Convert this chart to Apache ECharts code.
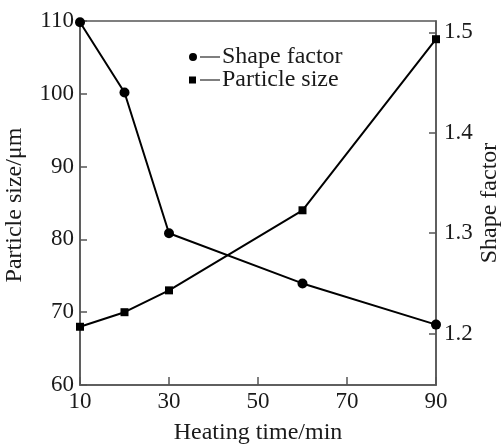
<!DOCTYPE html>
<html><head><meta charset="utf-8">
<script src="https://cdn.jsdelivr.net/npm/echarts@6/dist/echarts.min.js"></script>
<style>html,body{margin:0;padding:0;background:#fff}#c{width:502px;height:444px}</style>
</head><body><div id="c"></div>
<script>
const xValues = [10, 20, 30, 60, 90];
const particleSize = [68, 70, 73, 84, 107.5];
const shapeFactor = [1.51, 1.44, 1.30, 1.25, 1.209];
const xTicks = [10, 30, 50, 70, 90];
const leftTicks = [60, 70, 80, 90, 100, 110];
const rightTicks = [1.2, 1.3, 1.4, 1.5];
const seriesNames = ['Shape factor', 'Particle size'];
const xTitle = 'Heating time/min';
const leftTitle = 'Particle size/\u03bcm';
const rightTitle = 'Shape factor';

const FONT = 'Liberation Serif';
const axisCol = '#555';
const txtCol = '#1a1a1a';
const chart = echarts.init(document.getElementById('c'), null, {renderer: 'canvas'});
const circIcon = 'path://M0,4 A4,4 0 1,1 8,4 A4,4 0 1,1 0,4 Z M11,3.4 L31,3.4 L31,4.6 L11,4.6 Z';
const sqIcon = 'path://M0,0.5 L7,0.5 L7,7.5 L0,7.5 Z M11,3.4 L31,3.4 L31,4.6 L11,4.6 Z';
chart.setOption({
  animation: false,
  backgroundColor: '#fff',
  grid: {left: 80, right: 66, top: 21, bottom: 59, show: true, borderColor: axisCol, borderWidth: 1.5},
  legend: {
    orient: 'vertical', left: 184, top: 40, itemWidth: 31, itemHeight: 8, itemGap: -1,
    textStyle: {fontFamily: FONT, fontSize: 24, color: txtCol, lineHeight: 22, padding: [0,0,0,-3]},
    data: [{name: seriesNames[0], icon: circIcon}, {name: seriesNames[1], icon: sqIcon}]
  },
  xAxis: {
    type: 'value', min: xTicks[0], max: xTicks[xTicks.length-1], interval: 20,
    axisLine: {lineStyle: {color: axisCol, width: 1.5}},
    axisTick: {inside: true, length: 8, lineStyle: {color: axisCol, width: 1.5}},
    axisLabel: {fontFamily: FONT, fontSize: 23, color: txtCol, margin: 5},
    splitLine: {show: false}
  },
  yAxis: [{
    type: 'value', min: leftTicks[0], max: leftTicks[leftTicks.length-1], interval: 10,
    axisLine: {show: true, lineStyle: {color: axisCol, width: 1.5}},
    axisTick: {show: true, inside: true, length: 7, lineStyle: {color: axisCol, width: 1.5}},
    axisLabel: {fontFamily: FONT, fontSize: 23, color: txtCol, margin: 6},
    splitLine: {show: false}
  }, {
    type: 'value', position: 'right', min: 1.1489, max: 1.5112,
    axisLine: {show: true, lineStyle: {color: axisCol, width: 1.5}},
    axisTick: {show: true, inside: true, length: 7, customValues: rightTicks, lineStyle: {color: axisCol, width: 1.5}},
    axisLabel: {fontFamily: FONT, fontSize: 23, color: txtCol, margin: 8, customValues: rightTicks, formatter: v => v.toFixed(1)},
    splitLine: {show: false}
  }],
  series: [{
    name: seriesNames[0], type: 'line', yAxisIndex: 1,
    data: xValues.map((x, i) => [x, shapeFactor[i]]),
    symbol: 'circle', symbolSize: 10,
    lineStyle: {color: '#000', width: 2}, itemStyle: {color: '#000'}
  }, {
    name: seriesNames[1], type: 'line', yAxisIndex: 0,
    data: xValues.map((x, i) => [x, particleSize[i]]),
    symbol: 'rect', symbolSize: 8,
    lineStyle: {color: '#000', width: 2}, itemStyle: {color: '#000'}
  }],
  graphic: [
    {type: 'text', x: 258, y: 433, style: {text: xTitle, fontFamily: FONT, fontSize: 24, fill: txtCol, align: 'center', verticalAlign: 'middle'}},
    {type: 'text', x: 15, y: 205, rotation: Math.PI/2, style: {text: leftTitle, fontFamily: FONT, fontSize: 24, fill: txtCol, align: 'center', verticalAlign: 'middle'}},
    {type: 'text', x: 490, y: 203, rotation: Math.PI/2, style: {text: rightTitle, fontFamily: FONT, fontSize: 24, fill: txtCol, align: 'center', verticalAlign: 'middle'}}
  ]
});
</script></body></html>
